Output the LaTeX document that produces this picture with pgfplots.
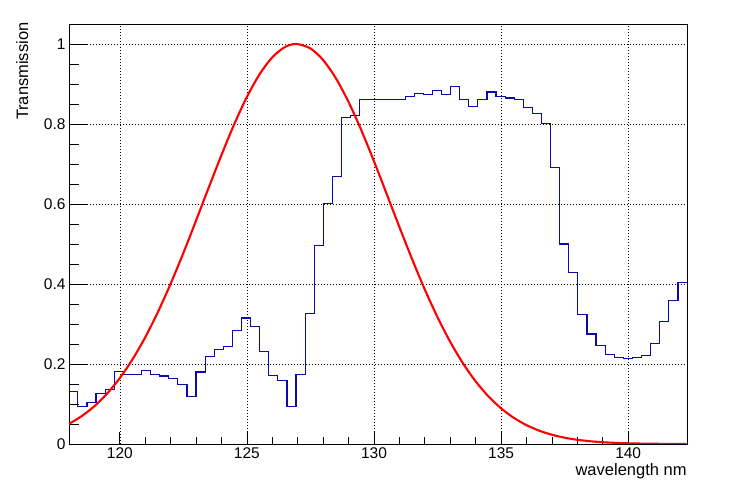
\documentclass[border=0pt]{standalone}
\usepackage{fontspec}
\setmainfont{Liberation Sans}
\usepackage{pgfplots}
\pgfplotsset{compat=1.18}
\definecolor{rootblue}{RGB}{10,10,170}
\pgfplotsset{base/.style={scale only axis, width=618pt, height=420pt,
  xmin=118, xmax=142.314, ymin=0, ymax=1.05, at={(0,0)}, anchor=south west},
  gridst/.style={major grid style={black, line width=0.6pt, dash pattern=on 1pt off 2pt}}}
\begin{document}
\begin{tikzpicture}
\path[use as bounding box] (-69pt,-37pt) rectangle (678pt,444pt);
% y ticks and y grid
\begin{axis}[base, gridst, xtick=\empty, ytick={0,0.2,0.4,0.6,0.8,1}, yticklabels={},
  minor y tick num=3, ytick pos=left, major tick length=18pt, minor tick length=10pt,
  ymajorgrids, axis line style={draw=none}, tick style={black, line width=0.8pt}]
\end{axis}
\begin{axis}[base, gridst,
  xtick={120,125,130,135,140}, minor x tick num=4, xtick pos=bottom,
  ytick={0,0.2,0.4,0.6,0.8,1}, yticklabels={0,0.2,0.4,0.6,0.8,1}, ytick pos=left,
  ytick style={draw=none}, xtick style={black, line width=0.8pt},
  major tick length=12pt, minor tick length=6.5pt,
  xmajorgrids, axis line style={black, line width=0.8pt},
  /pgf/number format/assume math mode=true,
  tick label style={font=\fontsize{15.5}{18}\selectfont},
  label style={font=\fontsize{16.5}{20}\selectfont},
  xlabel={wavelength nm}, ylabel={Transmission},
  xlabel style={at={(axis description cs:1.005,-0.038)}, anchor=north east},
  ylabel style={at={(axis description cs:-0.06,1.012)}, anchor=south east}]
\addplot[const plot, rootblue, line width=1.2pt] coordinates {
(117.990,0.132) (118.348,0.093) (118.705,0.103) (119.063,0.127) (119.421,0.137)
(119.779,0.182) (120.136,0.174) (120.494,0.174) (120.852,0.184) (121.209,0.174)
(121.567,0.170) (121.925,0.163) (122.282,0.148) (122.640,0.119) (122.998,0.180)
(123.356,0.218) (123.713,0.237) (124.071,0.243) (124.429,0.283) (124.786,0.315)
(125.144,0.293) (125.502,0.232) (125.859,0.171) (126.217,0.158) (126.575,0.093)
(126.933,0.173) (127.290,0.327) (127.648,0.496) (128.006,0.602) (128.363,0.668)
(128.721,0.816) (129.079,0.821) (129.436,0.862) (129.794,0.862) (130.152,0.862)
(130.510,0.862) (130.867,0.862) (131.225,0.868) (131.583,0.876) (131.940,0.873)
(132.298,0.884) (132.656,0.874) (133.013,0.894) (133.371,0.862) (133.729,0.843)
(134.087,0.862) (134.444,0.880) (134.802,0.868) (135.160,0.865) (135.517,0.862)
(135.875,0.841) (136.233,0.827) (136.590,0.801) (136.948,0.691) (137.306,0.500)
(137.664,0.428) (138.021,0.324) (138.379,0.275) (138.737,0.246) (139.094,0.223)
(139.452,0.217) (139.810,0.214) (140.167,0.217) (140.525,0.221) (140.883,0.252)
(141.241,0.307) (141.598,0.359) (141.956,0.403) (142.314,0.403)
};
\addplot[smooth, red, line width=2.1pt] coordinates {
(118,0.0503) (118.5,0.0697) (119,0.0946) (119.5,0.1261) (120,0.1649) (120.5,0.2118)
(121,0.2669) (121.5,0.3302) (122,0.4009) (122.5,0.4776) (123,0.5588) (123.5,0.6415)
(124,0.7227) (124.5,0.7993) (125,0.8677) (125.5,0.9245) (126,0.9669) (126.5,0.9925)
(126.95,1.0) (127.5,0.9888) (128,0.9597) (128.5,0.9143) (129,0.8549) (129.5,0.7845)
(130,0.7067) (130.5,0.6249) (131,0.5423) (131.5,0.4619) (132,0.3861) (132.5,0.3168)
(133,0.2552) (133.5,0.2017) (134,0.1565) (134.5,0.1192) (135,0.0891) (135.5,0.0654)
(136,0.0471) (136.5,0.0333) (137,0.0231) (137.5,0.0157) (138,0.0105) (138.5,0.0069)
(139,0.0044) (139.5,0.0028) (140,0.0017) (141,0.0006) (142.3,0.0001)
};
\end{axis}
\end{tikzpicture}
\end{document}
